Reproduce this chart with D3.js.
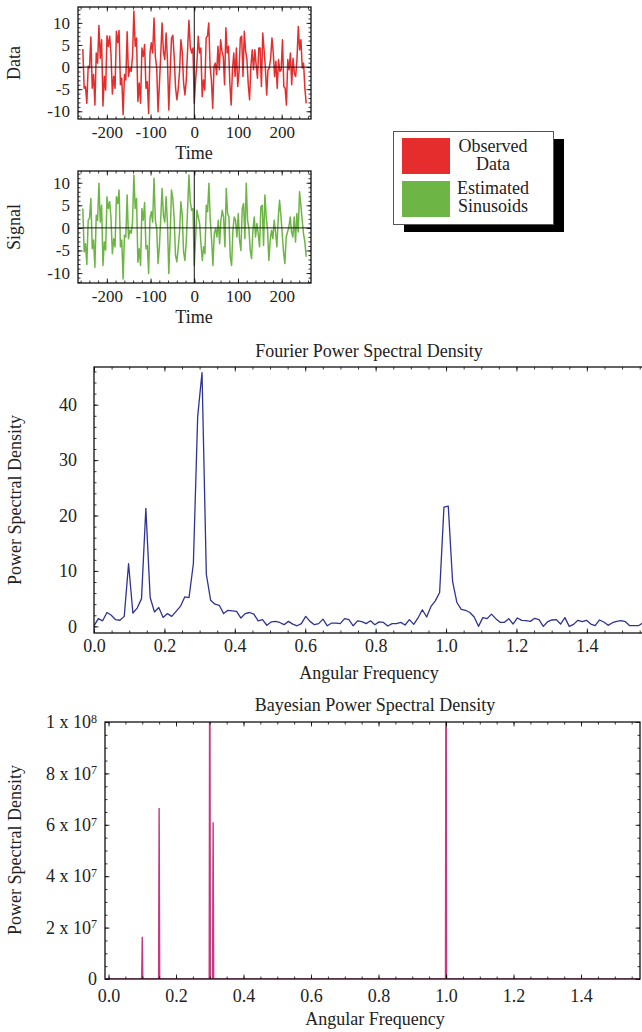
<!DOCTYPE html>
<html><head><meta charset="utf-8">
<script src="https://cdn.jsdelivr.net/npm/d3@7"></script>
<style>
body{margin:0;background:#fff;}
svg{display:block;font-family:"Liberation Serif","DejaVu Serif",serif;}
</style></head><body>
<svg id="c" width="642" height="1032"></svg>
<script>
// ---------------- data ----------------
// time series read from the picture, sampled roughly every 3 time units
const negSpan = [-255,-3], posSpan = [0,256];
const dataNeg = [4.1,-4.8,-4.4,-8.2,0.2,-0.2,6.8,-4.8,-1.7,-8.6,3.2,0.9,9.4,2.0,6.2,-8.8,-2.1,-5.2,7.1,4.7,7.0,2.8,-6.1,-2.1,-4.8,8.1,5.5,8.3,-4.0,-2.5,-10.8,-1.7,-2.9,8.0,-2.1,-0.2,-1.0,2.4,12.7,4.7,6.6,-7.8,-3.6,-8.2,4.3,2.4,5.1,-4.8,-3.3,-10.5,3.2,5.5,3.2,11.1,2.4,-0.2,-10.1,-4.0,2.8,10.0,3.5,1.7,7.7,1.7,-9.7,-1.5,6.5,7.2,2.5,-4.5,-7.4,-5.0,-1.0,6.2,3.5,-3.5,-6.3,-3.0,3.9,10.6,4.5,3.2,4.3];
const dataPos = [-8.2,-2.9,0.9,7.0,3.2,4.3,-6.7,-2.9,-5.2,6.6,7.0,10.0,0.2,-2.9,-9.3,0.2,0.9,-1.7,4.7,-0.6,6.2,3.6,2.4,-4.0,8.9,3.2,4.7,-3.6,-8.6,-0.6,3.2,-2.1,4.3,-4.4,-1.0,6.6,7.0,-2.1,8.1,3.6,1.7,-4.0,-7.4,0.2,3.9,-0.6,3.9,0.5,-2.5,4.3,4.3,-4.4,7.7,3.9,-0.2,-6.3,-0.6,-0.2,2.0,6.6,3.2,-2.1,1.3,-4.8,1.7,-1.0,-0.6,6.2,-4.4,-4.8,-8.6,1.7,-0.6,3.2,-4.0,2.0,-1.4,-2.1,1.7,9.2,3.9,6.2,-0.2,0.9,-4.8,-8.2];
const signalNeg = [4.3,-5.3,-3.5,-8.1,1.7,2.1,6.5,-4.6,-2.7,-8.7,2.8,1.7,9.9,1.3,5.0,-8.3,-3.1,-4.9,6.9,4.3,5.8,2.1,-5.7,-2.4,-4.2,6.9,5.4,8.4,-4.2,-2.7,-11.3,-1.6,-2.0,7.3,-2.4,-0.5,-1.2,1.3,11.7,4.3,6.5,-7.6,-4.6,-8.3,4.3,1.7,5.6,-4.6,-3.9,-10.1,2.1,3.6,1.3,11.0,1.7,-0.1,-7.9,-4.2,2.1,8.7,2.8,1.3,6.9,1.0,-10.1,-2.0,8.4,6.5,2.1,-6.1,-7.5,-4.6,-0.9,5.8,2.8,-5.3,-7.2,-3.1,4.3,11.7,5.8,3.9,4.3];
const signalPos = [-8.3,-2.0,3.9,2.4,1.0,-3.5,-7.2,-4.2,-5.7,5.0,3.6,9.9,1.7,-2.7,-8.3,-1.3,-0.1,-2.0,1.7,-3.5,1.7,3.9,2.4,-4.2,8.7,3.2,2.4,-6.4,-8.3,-0.5,2.4,1.7,-2.0,3.2,-2.7,-5.0,4.3,5.4,-2.4,9.9,1.7,-0.1,-5.0,-6.8,-0.5,2.4,-2.0,1.0,-1.3,-4.2,4.7,5.0,-3.9,7.3,2.4,-0.5,-7.2,-2.7,-0.5,-2.4,1.7,-0.9,-4.2,2.1,6.1,2.8,-1.3,-5.3,-7.9,-2.0,-0.9,0.2,2.4,-0.9,-2.0,2.4,-3.1,3.2,-0.9,8.0,5.0,1.7,-1.3,-3.1,-6.4];
const timeTicks = [-200,-100,0,100,200];
const timeMinor = [-260,-240,-220,-200,-180,-160,-140,-120,-100,-80,-60,-40,-20,0,20,40,60,80,100,120,140,160,180,200,220,240,260];
const ampTicks = [-10,-5,0,5,10];
const ampMinor = [-12,-11,-10,-9,-8,-7,-6,-5,-4,-3,-2,-1,0,1,2,3,4,5,6,7,8,9,10,11,12,13];

const fourierDeltaW = 2*Math.PI/512;
const fourierPSD = [0.1,1.4,1.0,2.5,2.0,1.2,1.1,1.8,11.3,2.4,3.3,5.0,21.3,5.2,2.6,3.4,1.6,2.3,1.8,2.7,3.6,5.3,5.2,11.3,37.9,45.8,9.4,4.7,4.0,3.8,2.3,2.9,2.8,2.7,1.5,2.3,2.5,2.2,1.0,1.2,0.2,0.8,0.9,0.7,0.3,0.9,0.4,0.1,0.5,1.8,0.9,0.3,0.5,1.3,0.1,0.6,0.6,0.5,1.4,1.2,0.1,1.0,0.85,0.5,1.0,0.3,0.8,0.7,0.06,0.48,0.48,0.72,0.24,1.21,0.36,1.51,3.0,1.69,3.6,4.6,6.1,21.5,21.7,8.1,4.3,3.08,2.9,2.5,1.69,0,1.57,1.39,2.2,1.39,0.72,0.72,1.39,0.42,1.51,1.09,1.03,0.9,1.45,1.21,0,0.84,1.15,1.21,0.42,1.57,0,0.36,1.09,0.84,1.09,0.42,0.12,1.15,0.78,0.18,0.66,0.9,1.03,0.84,0.12,0.12,0.12,0.6,0.8];
const freqTicks = [0,0.2,0.4,0.6,0.8,1.0,1.2,1.4];
const freqMinor = d3.range(0,1.6,0.05);
const fourierTicks = [0,10,20,30,40];
const fourierMinor = d3.range(0,47,2);

const bayesFreq = [0.1,0.15,0.3,0.31,1.0];
const bayesPeak = [1.64e7,6.65e7,1.6e8,6.1e7,1.6e8];
const bayesTicks = [0,2e7,4e7,6e7,8e7,1e8];
const bayesMinor = d3.range(0,1.01e8,5e6);

const legendLabels = [["Observed","Data"],["Estimated","Sinusoids"]];
const colors = {data:"#e52d2d", signal:"#6db545", fourier:"#2f3393", bayes:"#c6387f"};

// ---------------- helpers ----------------
const svg = d3.select("#c");
const SMALLTICK = 17, BIGTICK = 18, LABFS = 18;

function samples(values, span){
  const n = values.length;
  return values.map((v,i)=>({t: span[0] + i*(span[1]-span[0])/(n-1), v}));
}
function axis(g, orient, scale, vals, size, fmt, pad, tx, ty, fs){
  const f = {b:d3.axisBottom,t:d3.axisTop,l:d3.axisLeft,r:d3.axisRight}[orient];
  const a = f(scale).tickValues(vals).tickSize(-size).tickPadding(pad).tickFormat(fmt||(()=>""));
  const s = g.append("g").attr("transform",`translate(${tx},${ty})`).call(a);
  s.select(".domain").remove();
  s.attr("font-family",null).attr("font-size",fs||BIGTICK);
  s.selectAll("line").attr("stroke","#000").attr("stroke-width",0.8);
  s.selectAll("text").attr("fill","#222");
  return s;
}
function frame(g, x, y, o){
  const [xl,xr] = x.range(), [yb,yt] = y.range();
  const MAJ=4.5, MIN=2.5;
  axis(g,"b",x,o.xMinor,MIN,null,0,0,yb);
  axis(g,"t",x,o.xMinor,MIN,null,0,0,yt);
  axis(g,"b",x,o.xMajor,MAJ,o.xFmt,o.xPad,0,yb,o.fs);
  axis(g,"t",x,o.xMajor,MAJ,null,0,0,yt);
  axis(g,"l",y,o.yMinor,MIN,null,0,xl,0);
  axis(g,"r",y,o.yMinor,MIN,null,0,xr,0);
  const yl = axis(g,"l",y,o.yMajor,MAJ,o.yFmt,o.yPad,xl,0,o.fs);
  axis(g,"r",y,o.yMajor,MAJ,null,0,xr,0);
  g.append("rect").attr("x",xl).attr("y",yt).attr("width",xr-xl).attr("height",yb-yt)
    .attr("fill","none").attr("stroke","#111").attr("stroke-width",1.3);
  return yl;
}
function clip(id, x, y){
  const [xl,xr] = x.range(), [yb,yt] = y.range();
  svg.append("clipPath").attr("id",id).append("rect").attr("x",xl).attr("y",yt).attr("width",xr-xl).attr("height",yb-yt);
}
function label(text, x, y, rot, fs){
  svg.append("text").attr("x",x).attr("y",y).attr("text-anchor","middle")
    .attr("transform",rot?`rotate(-90,${x},${y})`:null)
    .attr("font-size",fs||LABFS).attr("fill","#222").text(text);
}

// ---------------- time series panels ----------------
function timePanel(neg, pos, color, top, bottom, yDom, name, id){
  const x = d3.scaleLinear().domain([-266,267]).range([78,311]);
  const y = d3.scaleLinear().domain(yDom).range([bottom,top]);
  const pts = samples(neg,negSpan).concat(samples(pos,posSpan));
  clip(id,x,y);
  const g = svg.append("g");
  g.append("path").datum(pts).attr("clip-path",`url(#${id})`)
    .attr("fill","none").attr("stroke",color).attr("stroke-width",1.5).attr("stroke-linejoin","round")
    .attr("d",d3.line().x(d=>x(d.t)).y(d=>y(d.v)));
  g.append("line").attr("x1",x.range()[0]).attr("x2",x.range()[1]).attr("y1",y(0)).attr("y2",y(0)).attr("stroke","#111").attr("stroke-width",1);
  g.append("line").attr("x1",x(0)).attr("x2",x(0)).attr("y1",top).attr("y2",bottom).attr("stroke","#111").attr("stroke-width",1);
  frame(g,x,y,{xMajor:timeTicks,xMinor:timeMinor.filter(v=>v>=-266&&v<=267),yMajor:ampTicks,yMinor:ampMinor.filter(v=>v>=yDom[0]&&v<=yDom[1]),
    xFmt:d3.format("d"),yFmt:d3.format("d"),xPad:7,yPad:8,fs:SMALLTICK});
  g.selectAll("text").filter(function(){return this.textContent.startsWith("−");}).text(function(){return this.textContent.replace("−","-");});
  label(name,20,(top+bottom)/2,true);
  label("Time",194,bottom+40);
}
timePanel(dataNeg,dataPos,colors.data,7,119,[-11.75,13.6],"Data","cd");
timePanel(signalNeg,signalPos,colors.signal,171,283,[-12.2,12.6],"Signal","cs");

// ---------------- legend ----------------
const lg = svg.append("g");
lg.append("rect").attr("x",404).attr("y",139).attr("width",160).attr("height",93).attr("fill","#000");
lg.append("rect").attr("x",393.5).attr("y",131.5).attr("width",160).attr("height",93).attr("fill","#fff").attr("stroke","#555").attr("stroke-width",1);
[colors.data,colors.signal].forEach((c,i)=>{
  lg.append("rect").attr("x",402).attr("y",138+i*43).attr("width",48).attr("height",36).attr("fill",c);
  legendLabels[i].forEach((t,j)=>{
    lg.append("text").attr("x",493).attr("y",152+i*42+j*18).attr("text-anchor","middle")
      .attr("font-size",18).attr("fill","#222").text(t);
  });
});

// ---------------- Fourier PSD ----------------
{
  const x = d3.scaleLinear().domain([0,Math.PI/2]).range([94,647]);
  const y = d3.scaleLinear().domain([-1.2,46.8]).range([633,367]);
  const g = svg.append("g");
  clip("cf",x,y);
  g.append("path").datum(fourierPSD).attr("clip-path","url(#cf)")
    .attr("fill","none").attr("stroke",colors.fourier).attr("stroke-width",1.3).attr("stroke-linejoin","round")
    .attr("d",d3.line().x((d,i)=>x(i*fourierDeltaW)).y(d=>y(d)));
  frame(g,x,y,{xMajor:freqTicks,xMinor:freqMinor,yMajor:fourierTicks,yMinor:fourierMinor,
    xFmt:d3.format(".1f"),yFmt:d3.format("d"),xPad:6,yPad:17});
  label("Fourier Power Spectral Density",369,357);
  label("Angular Frequency",369,679);
  label("Power Spectral Density",21,500,true);
}

// ---------------- Bayesian PSD ----------------
{
  const x = d3.scaleLinear().domain([-0.0104,1.5747]).range([105,640]);
  const y = d3.scaleLinear().domain([0,1e8]).range([979,722]);
  const g = svg.append("g");
  clip("cb",x,y);
  const half = 0.0016;
  const pts = [[x.domain()[0],0]];
  bayesFreq.forEach((f,i)=>{pts.push([f-half,0],[f,bayesPeak[i]],[f+half,0]);});
  pts.push([x.domain()[1],0]);
  g.append("path").datum(pts).attr("clip-path","url(#cb)")
    .attr("fill",colors.bayes).attr("stroke",colors.bayes).attr("stroke-width",1.4).attr("stroke-linejoin","miter")
    .attr("d",d3.line().x(d=>x(d[0])).y(d=>y(d[1])));
  const yl = frame(g,x,y,{xMajor:freqTicks,xMinor:freqMinor,yMajor:bayesTicks,yMinor:bayesMinor,
    xFmt:d3.format(".1f"),yFmt:d=>d,xPad:10,yPad:8});
  yl.selectAll("text").each(function(d){
    const t = d3.select(this); t.text("");
    if(d===0){t.text("0");return;}
    const e = Math.floor(Math.log10(d)+1e-9), m = Math.round(d/Math.pow(10,e));
    t.append("tspan").text(m+" x 10");
    t.append("tspan").attr("dy","-0.45em").attr("font-size",12).text(e);
  });
  label("Bayesian Power Spectral Density",375,711);
  label("Angular Frequency",375,1025);
  label("Power Spectral Density",21,850,true);
}
</script>
</body></html>
